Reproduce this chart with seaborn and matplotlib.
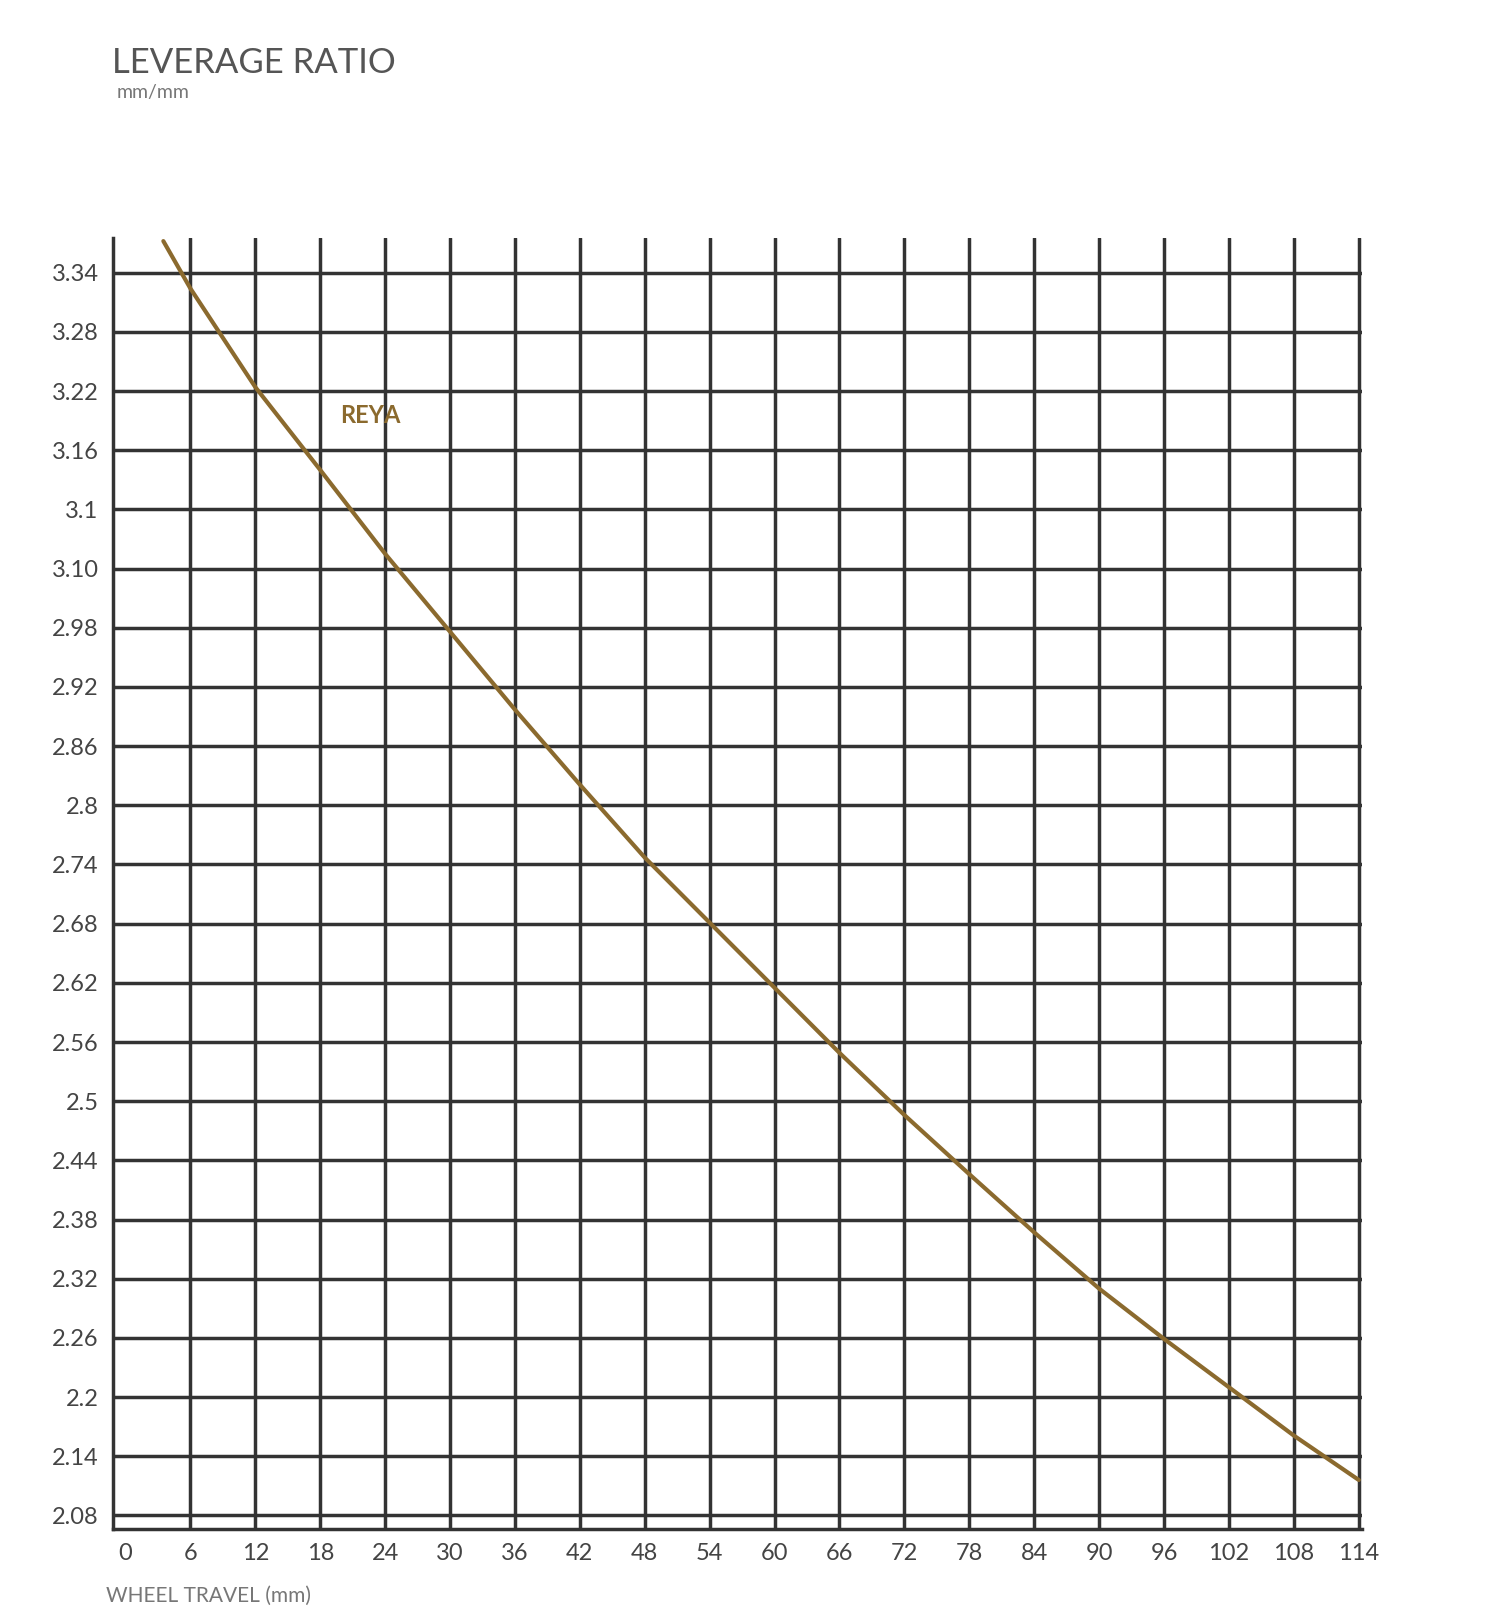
import matplotlib
matplotlib.use("Agg")
import matplotlib.pyplot as plt
import seaborn as sns
import pandas as pd

travel = [3.5, 6, 12, 18, 24, 30, 36, 42, 48, 54, 60, 66, 72, 78, 84, 90, 96, 102, 108, 114]
ratio = [3.372, 3.324, 3.224, 3.140, 3.055, 2.976, 2.897, 2.821, 2.747, 2.681, 2.615,
         2.549, 2.486, 2.426, 2.367, 2.310, 2.259, 2.210, 2.161, 2.116]
x_ticks = list(range(0, 115, 6))
y_ticks = [2.08 + 0.06 * i for i in range(22)]
y_labels = ["2.08", "2.14", "2.2", "2.26", "2.32", "2.38", "2.44", "2.5", "2.56", "2.62",
            "2.68", "2.74", "2.8", "2.86", "2.92", "2.98", "3.10", "3.1", "3.16", "3.22",
            "3.28", "3.34"]

sns.set_style("white")
plt.rcParams['font.family'] = ['Lato', 'DejaVu Sans']
gold = "#8b6a2e"
grid = "#333333"

fig = plt.figure(figsize=(15, 16.2), dpi=100)
ax = fig.add_axes([0.075, 0.056, 0.833, 0.797])
df = pd.DataFrame({"travel": travel, "ratio": ratio})

for x in x_ticks[1:]:
    ax.axvline(x, color=grid, lw=2.5, zorder=1)
for y in y_ticks:
    ax.axhline(y, color=grid, lw=2.5, zorder=1)

sns.lineplot(data=df, x="travel", y="ratio", color=gold, lw=3, ax=ax, zorder=3)

ax.set_xlim(-1.2, 114.3)
ax.set_ylim(2.066, 3.375)
ax.set_xticks(x_ticks)
ax.set_xticklabels([str(v) for v in x_ticks], fontsize=17, color="#444444")
ax.set_yticks(y_ticks)
ax.set_yticklabels(y_labels, fontsize=17, color="#444444")
ax.tick_params(length=0, pad=10)
ax.set_xlabel("")
ax.set_ylabel("")
for s in ["top", "right"]:
    ax.spines[s].set_visible(False)
for s in ["left", "bottom"]:
    ax.spines[s].set_color(grid)
    ax.spines[s].set_linewidth(2.5)

ax.text(19.8, 3.195, "REYA", color=gold, fontsize=17, fontweight="bold", va="center")

fig.text(0.075, 0.961, "LEVERAGE RATIO", fontsize=25, color="#555555", va="center")
fig.text(0.078, 0.943, "mm/mm", fontsize=14, color="#777777", va="center")
fig.text(0.071, 0.015, "WHEEL TRAVEL (mm)", fontsize=15, color="#777777", va="center")

fig.savefig("out.png", dpi=100)
